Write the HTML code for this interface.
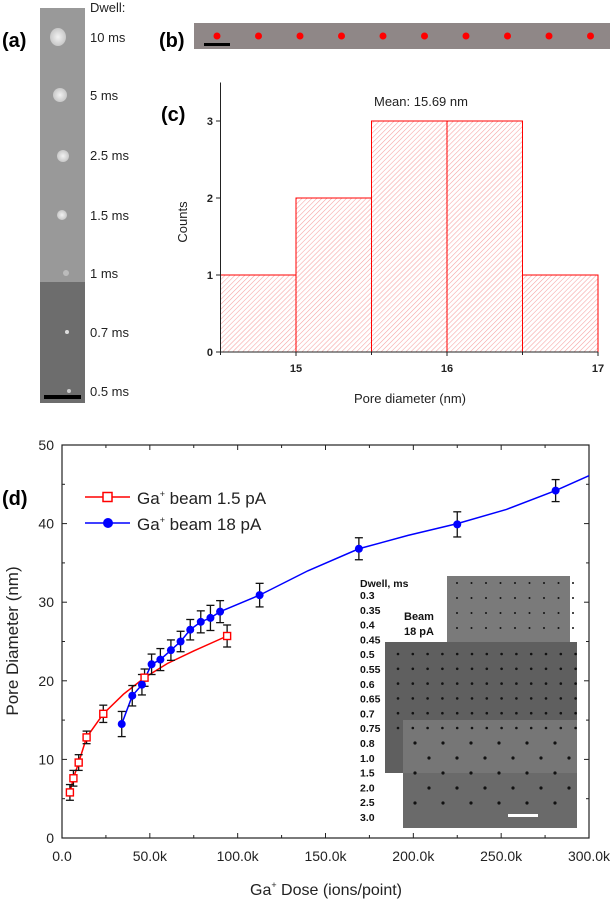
<!DOCTYPE html>
<html><head><meta charset="utf-8"><style>
body{margin:0;background:#fff;width:614px;height:904px;overflow:hidden;font-family:"Liberation Sans",sans-serif}
svg{display:block}
</style></head><body>
<svg id="fig" width="614" height="904" viewBox="0 0 614 904" xmlns="http://www.w3.org/2000/svg">
<defs>
<pattern id="hatch" width="3.5" height="3.5" patternUnits="userSpaceOnUse" patternTransform="rotate(45)">
<rect width="4" height="4" fill="#fff"/><line x1="0" y1="0" x2="0" y2="4" stroke="#f6a0a0" stroke-width="1.1"/></pattern>
<radialGradient id="spot"><stop offset="0" stop-color="#f2f2f2"/><stop offset="1" stop-color="#c8c8c8"/></radialGradient>
</defs>
<g>
<text x="2" y="47" font-size="20" font-weight="bold">(a)</text>
<rect x="40" y="8" width="45" height="274" fill="#999"/>
<rect x="40" y="282" width="45" height="121" fill="#6d6d6d"/>
<ellipse cx="58" cy="37" rx="8" ry="9" fill="url(#spot)"/>
<ellipse cx="60" cy="95" rx="7" ry="7" fill="url(#spot)"/>
<ellipse cx="63" cy="156" rx="6" ry="6" fill="url(#spot)"/>
<ellipse cx="62" cy="215" rx="5" ry="5" fill="url(#spot)"/>
<ellipse cx="66" cy="273" rx="3" ry="3" fill="#bbb"/>
<circle cx="67" cy="332" r="2" fill="#ddd"/>
<circle cx="69" cy="391" r="2" fill="#ccc"/>
<rect x="44" y="395" width="37" height="4" fill="#000"/>
<g font-size="13" fill="#222">
<text x="90" y="12">Dwell:</text>
<text x="90" y="42">10 ms</text><text x="90" y="100">5 ms</text><text x="90" y="160">2.5 ms</text>
<text x="90" y="220">1.5 ms</text><text x="90" y="278">1 ms</text><text x="90" y="337">0.7 ms</text><text x="90" y="396">0.5 ms</text>
</g></g>
<g>
<text x="159" y="47" font-size="20" font-weight="bold">(b)</text>
<rect x="194" y="23" width="416" height="26" fill="#8f8787"/>
<g id="bdots" fill="#f00"></g>
<rect x="204" y="43" width="26" height="3" fill="#000"/>
</g>
<g id="hist">
<text x="161" y="121" font-size="20" font-weight="bold">(c)</text>
<text x="374" y="106" font-size="13" fill="#222">Mean: 15.69 nm</text>
<text transform="translate(187,222) rotate(-90)" font-size="13" text-anchor="middle" fill="#222">Counts</text>
<text x="410" y="403" font-size="13" text-anchor="middle" fill="#222">Pore diameter (nm)</text>
</g>
<g id="chart">
<text x="2" y="505" font-size="20" font-weight="bold">(d)</text>
<text transform="translate(18,641) rotate(-90)" font-size="17" text-anchor="middle" fill="#222">Pore Diameter (nm)</text>
<text x="326" y="895" font-size="16" text-anchor="middle" fill="#222">Ga<tspan dy="-7" font-size="9">+</tspan><tspan dy="7"> Dose (ions/point)</tspan></text>
<g>
<line x1="85" y1="497" x2="130" y2="497" stroke="#f00" stroke-width="1.5"/>
<rect x="103" y="492.5" width="9" height="9" fill="#fff" stroke="#f00" stroke-width="1.5"/>
<text x="137" y="504" font-size="17" fill="#222">Ga<tspan dy="-7" font-size="9">+</tspan><tspan dy="7"> beam 1.5 pA</tspan></text>
<line x1="85" y1="523" x2="130" y2="523" stroke="#00f" stroke-width="1.5"/>
<circle cx="108" cy="523" r="5" fill="#00f"/>
<text x="137" y="530" font-size="17" fill="#222">Ga<tspan dy="-7" font-size="9">+</tspan><tspan dy="7"> beam 18 pA</tspan></text>
</g>
<g id="inset">
<rect x="447" y="576" width="123" height="79" fill="#7a7a7a"/>
<rect x="385" y="642" width="192" height="131" fill="#5f5f5f"/>
<rect x="403" y="720" width="174" height="108" fill="#767676"/>
<rect x="403" y="773" width="174" height="55" fill="#6a6a6a"/>
<g id="insetdots" fill="#111"></g>
<rect x="508" y="814" width="30" height="3" fill="#fff"/>
<g font-size="10.5" font-weight="bold" fill="#111">
<text x="360" y="587">Dwell, ms</text>
<text x="404" y="620" font-size="11">Beam</text><text x="404" y="635" font-size="11">18 pA</text>
</g>
<g id="dwell" font-size="10.5" font-weight="bold" fill="#111"></g>
</g>
</g>
</svg>
<script>
const NS="http://www.w3.org/2000/svg";
function mk(tag,attrs,parent){const e=document.createElementNS(NS,tag);for(const k in attrs)e.setAttribute(k,attrs[k]);parent.appendChild(e);return e;}
const binStarts=[14.5,15,15.5,16,16.5];
const binWidth=0.5;
const binCounts=[1,2,3,3,1];
const histXTicks=[15,16,17];
const histYTicks=[0,1,2,3];
const redDose=[4.5,6.5,9.5,14,23.5,47,94];
const redDiam=[5.8,7.6,9.6,12.8,15.8,20.4,25.7];
const redErr=[1,1,1,0.8,1.1,1.1,1.4];
const blueDose=[34,40,45.5,51,56,62,67.5,73,79,84.5,90,112.5,169,225,281];
const blueDiam=[14.5,18.1,19.5,22.1,22.7,23.9,25,26.5,27.5,28,28.8,30.9,36.8,39.9,44.2];
const blueErr=[1.6,1.3,1.3,1.3,1.4,1.3,1.3,1.3,1.4,1.6,1.4,1.5,1.4,1.6,1.4];
const blueFitDose=[34,40,45.5,51,56,62,67.5,73,79,84.5,90,112.5,140,169,197,225,253,281,300];
const blueFitDiam=[14.5,18.1,19.5,22.1,22.7,23.9,25,26.5,27.5,28,28.8,30.9,34,36.8,38.5,40,41.8,44.2,46.1];
const redFitDose=[4.5,6.5,9.5,14,23.5,35,47,60,75,94];
const redFitDiam=[5.8,7.6,9.6,12.8,15.8,18.3,20.4,22.2,23.8,25.7];
const doseTicks=[0,50,100,150,200,250,300];
const doseTickLabels=["0.0","50.0k","100.0k","150.0k","200.0k","250.0k","300.0k"];
const diamTicks=[0,10,20,30,40,50];
const dwellLabels=["0.3","0.35","0.4","0.45","0.5","0.55","0.6","0.65","0.7","0.75","0.8","1.0","1.5","2.0","2.5","3.0"];

const bd=document.getElementById('bdots');
for(let i=0;i<10;i++){const c=mk('circle',{cx:217+i*41.5,cy:36,r:3.5},bd);

}

const H=document.getElementById('hist');
const hx=v=>220.5+(v-14.5)*151, hy=v=>352-v*77;
binStarts.forEach((s,i)=>{const r=mk('rect',{x:hx(s),y:hy(binCounts[i]),width:hx(s+binWidth)-hx(s),height:hy(0)-hy(binCounts[i]),fill:'url(#hatch)',stroke:'#f00','stroke-width':1},H);

});
mk('line',{x1:220.5,y1:hy(0),x2:hx(17),y2:hy(0),stroke:'#222','stroke-width':1},H);
mk('line',{x1:220.5,y1:hy(0),x2:220.5,y2:hy(3.5),stroke:'#222','stroke-width':1},H);
histXTicks.forEach(t=>{mk('line',{x1:hx(t),y1:hy(0),x2:hx(t),y2:hy(0)+4,stroke:'#222'},H);
const tx=mk('text',{x:hx(t),y:hy(0)+20,'font-size':11,'font-weight':'bold','text-anchor':'middle',fill:'#222'},H);tx.textContent=t;

});
[14.5,15.5,16.5].forEach(t=>mk('line',{x1:hx(t),y1:hy(0),x2:hx(t),y2:hy(0)+3,stroke:'#222'},H));
histYTicks.forEach(t=>{mk('line',{x1:216,y1:hy(t),x2:220.5,y2:hy(t),stroke:'#222'},H);
const tx=mk('text',{x:213,y:hy(t)+4,'font-size':11,'font-weight':'bold','text-anchor':'end',fill:'#222'},H);tx.textContent=t;

});

const C=document.getElementById('chart');
const X=v=>62+v*(527/300), Y=v=>838-v*7.86;
mk('rect',{x:62,y:445,width:527,height:393,fill:'none',stroke:'#222','stroke-width':1.2},C);
doseTicks.forEach((t,i)=>{mk('line',{x1:X(t),y1:838,x2:X(t),y2:833,stroke:'#222'},C);mk('line',{x1:X(t),y1:445,x2:X(t),y2:450,stroke:'#222'},C);
const tx=mk('text',{x:X(t),y:861,'font-size':14,'text-anchor':'middle',fill:'#222'},C);tx.textContent=doseTickLabels[i];

});
for(let t=25;t<300;t+=50){mk('line',{x1:X(t),y1:838,x2:X(t),y2:835,stroke:'#222'},C);mk('line',{x1:X(t),y1:445,x2:X(t),y2:448,stroke:'#222'},C);}
diamTicks.forEach(t=>{mk('line',{x1:62,y1:Y(t),x2:67,y2:Y(t),stroke:'#222'},C);mk('line',{x1:589,y1:Y(t),x2:584,y2:Y(t),stroke:'#222'},C);
const tx=mk('text',{x:54,y:Y(t)+5,'font-size':14,'text-anchor':'end',fill:'#222'},C);tx.textContent=t;

});
for(let t=5;t<50;t+=10){mk('line',{x1:62,y1:Y(t),x2:65,y2:Y(t),stroke:'#222'},C);mk('line',{x1:589,y1:Y(t),x2:586,y2:Y(t),stroke:'#222'},C);}
const ins=document.getElementById('insetdots');
for(let r=0;r<4;r++)for(let c=0;c<9;c++)mk('circle',{cx:457+c*14.5,cy:583+r*15,r:1},ins);
for(let r=0;r<6;r++)for(let c=0;c<13;c++)mk('circle',{cx:398+c*14.8,cy:654+r*14.8,r:1.3},ins);
for(let r=0;r<5;r++)for(let c=0;c<6;c++)mk('circle',{cx:415+c*28+(r%2)*14,cy:743+r*15,r:1.6},ins);
const dw=document.getElementById('dwell');
dwellLabels.forEach((l,i)=>{const t=mk('text',{x:360,y:599+i*14.8},dw);t.textContent=l;

});
function poly(xs,ys,col,name){const p=mk('polyline',{points:xs.map((x,i)=>X(x)+','+Y(ys[i])).join(' '),fill:'none',stroke:col,'stroke-width':1.5},C);

}
poly(redFitDose,redFitDiam,'#f00','red-fit-line');
poly(blueFitDose,blueFitDiam,'#00f','blue-fit-line');
function errs(xs,ys,es){xs.forEach((x,i)=>{const g=mk('g',{stroke:'#111','stroke-width':1.3},C);


mk('line',{x1:X(x),y1:Y(ys[i]-es[i]),x2:X(x),y2:Y(ys[i]+es[i])},g);
mk('line',{x1:X(x)-4,y1:Y(ys[i]-es[i]),x2:X(x)+4,y2:Y(ys[i]-es[i])},g);
mk('line',{x1:X(x)-4,y1:Y(ys[i]+es[i]),x2:X(x)+4,y2:Y(ys[i]+es[i])},g);});}
errs(redDose,redDiam,redErr);errs(blueDose,blueDiam,blueErr);
redDose.forEach((x,i)=>{const r=mk('rect',{x:X(x)-3.5,y:Y(redDiam[i])-3.5,width:7,height:7,fill:'#fff',stroke:'#f00','stroke-width':1.4},C);

});
blueDose.forEach((x,i)=>{const c=mk('circle',{cx:X(x),cy:Y(blueDiam[i]),r:4,fill:'#00f'},C);

});
</script>
</body></html>
